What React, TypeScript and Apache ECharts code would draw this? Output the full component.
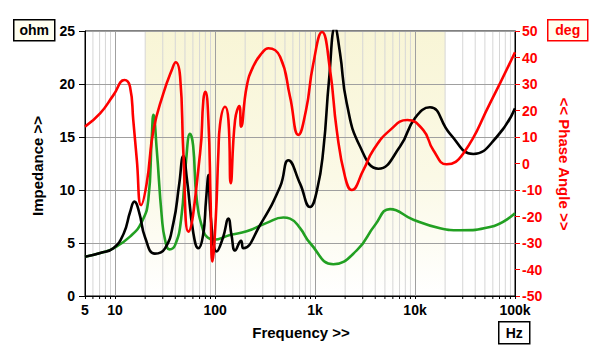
import React, { useEffect, useRef } from "react";
import * as echarts from "echarts";

// Frequencies (Hz) and values
const blackFreq = [5, 7.1, 9.6, 12.2, 14.1, 15.6, 17.4, 20, 25, 31.6, 38.3, 43.7, 48.1, 52.5, 60.7, 68.1, 75.9, 81.3, 86, 90.2, 104, 120, 136, 146, 158.5, 182, 192, 282, 447, 541, 708, 891, 1047, 1211, 1380, 1585, 1778, 2073, 2818, 4300, 7079, 10000, 14100, 22400, 38300, 65600, 100000];
const blackOhm = [3.7, 4.06, 4.5, 5.9, 7.9, 8.9, 7.9, 5.5, 4.0, 4.5, 6.9, 10.5, 13.2, 10.9, 5.9, 4.5, 5.75, 9.1, 11.4, 7.6, 4.2, 5.5, 7.3, 5.75, 4.3, 5.2, 4.5, 6.7, 10.3, 12.8, 10.6, 8.4, 10.0, 13.8, 20.4, 25.3, 22.9, 18.2, 14.1, 12.0, 14.1, 16.8, 17.8, 15.3, 13.4, 15.0, 17.7];

const greenFreq = [5, 7.1, 9.6, 14.1, 18.5, 21.5, 23.2, 24.2, 26.1, 29.3, 31.6, 35, 39.8, 45.7, 51.3, 56.2, 60.3, 65.6, 76.4, 85.1, 96.2, 141, 207, 329, 482, 562, 708, 891, 1524, 2612, 3981, 5623, 9623, 17800, 28200, 56200, 100000];
const greenOhm = [3.7, 4.06, 4.5, 5.6, 7.0, 9.1, 14.7, 17.1, 13.8, 7.5, 5.3, 4.4, 4.8, 7.2, 12.8, 15.3, 14.2, 9.1, 6.1, 5.5, 5.3, 5.75, 6.1, 6.9, 7.4, 7.3, 6.4, 5.0, 3.0, 4.3, 6.7, 8.2, 7.2, 6.4, 6.2, 6.5, 7.8];

const redFreq = [5, 7.08, 9.62, 12.4, 14.1, 15.2, 16.5, 18.2, 20.7, 24.2, 30.4, 36.9, 40.4, 44.7, 48.2, 54.1, 70.8, 76.4, 80, 85.7, 90.2, 94, 101.6, 108, 112, 126, 136, 143.5, 158.5, 175, 182, 207, 240, 293, 341, 447, 562, 681, 813, 955, 1175, 1413, 1648, 1995, 2328, 3041, 3828, 5623, 8375, 12100, 15200, 20700, 30400, 56200, 100000];
const redDeg = [13.9, 18.9, 25.8, 31.5, 29.0, 16.4, 1.3, -15.7, -7.5, 12.6, 26.5, 35.3, 38.2, 32.8, 3.8, -25.7, 3.8, 24.0, 27.1, 16.4, -13.8, -37.0, -20.7, 4.5, 14.6, 21.4, 16.4, -7.4, 16.4, 21.7, 13.9, 29.0, 36.5, 41.6, 43.5, 40.3, 25.2, 10.8, 20.2, 37.2, 49.6, 35.3, 12.6, -5.0, -10.0, -2.5, 5.1, 12.6, 16.4, 12.6, 5.1, -0.3, 3.8, 22.7, 42.0];

const minorFreq = [6, 7, 8, 9, 20, 30, 40, 50, 60, 70, 80, 90, 200, 300, 400, 500, 600, 700, 800, 900, 2000, 3000, 4000, 5000, 6000, 7000, 8000, 9000, 20000, 30000, 40000, 50000, 60000, 70000, 80000, 90000];
const bandRange = [[20, 20000]];

const pair = (xs: number[], ys: number[]) => xs.map((x, i) => [x, ys[i]]);

const FONT = "Liberation Sans, Arial, sans-serif";

function fmtFreq(v: number) {
  const r = Math.round(v);
  if (r >= 1000) return Math.round(r / 1000) + "k";
  return String(r);
}

export default function App() {
  const ref = useRef<HTMLDivElement>(null);
  useEffect(() => {
    if (!ref.current) return;
    const chart = echarts.init(ref.current, undefined, { renderer: "svg" });
    chart.setOption({
      animation: false,
      backgroundColor: "#ffffff",
      grid: {
        left: 85,
        right: 85,
        top: 31,
        bottom: 60,
        show: true,
        borderColor: "#000",
        borderWidth: 1,
        backgroundColor: "transparent",
        containLabel: false,
      },
      xAxis: {
        type: "log",
        logBase: 10,
        min: 5,
        max: 100000,
        axisLine: { show: true, lineStyle: { color: "#000", width: 1 } },
        axisTick: { show: true, length: 3, lineStyle: { color: "#000" } },
        axisLabel: {
          show: true,
          formatter: (v: number) => fmtFreq(v),
          color: "#000",
          fontFamily: FONT,
          fontWeight: "bold",
          fontSize: 14,
          margin: 7,
          showMinLabel: true,
          showMaxLabel: true,
        },
        splitLine: { show: true, lineStyle: { color: "#a0a0a0", width: 1 } },
      },
      yAxis: [
        {
          type: "value",
          min: 0,
          max: 25,
          interval: 5,
          axisLine: { show: true, lineStyle: { color: "#000" } },
          axisTick: { show: true, length: 6, lineStyle: { color: "#000" } },
          axisLabel: { color: "#000", fontFamily: FONT, fontWeight: "bold", fontSize: 14, margin: 10 },
          splitLine: { show: true, lineStyle: { color: "#a0a0a0", width: 1 } },
        },
        {
          type: "value",
          min: -50,
          max: 50,
          interval: 10,
          position: "right",
          axisLine: { show: true, lineStyle: { color: "#000" } },
          axisTick: { show: true, length: 5, lineStyle: { color: "#ff0000" } },
          axisLabel: { color: "#ff0000", fontFamily: FONT, fontWeight: "bold", fontSize: 14, margin: 7 },
          splitLine: { show: false },
        },
      ],
      series: [
        {
          type: "custom",
          z: -2,
          clip: true,
          data: bandRange,
          renderItem: (params: any, api: any) => {
            const a = api.coord([api.value(0), 25]);
            const b = api.coord([api.value(1), 0]);
            return {
              type: "rect",
              shape: { x: a[0], y: a[1], width: b[0] - a[0], height: b[1] - a[1] },
              style: {
                fill: new echarts.graphic.LinearGradient(0, 0, 0, 1, [
                  { offset: 0, color: "#f8f5d6" },
                  { offset: 0.55, color: "#fbf9e6" },
                  { offset: 1, color: "#ffffff" },
                ]),
              },
            };
          },
        },
        {
          type: "custom",
          z: -1,
          clip: false,
          data: minorFreq.map((f) => [f]),
          renderItem: (params: any, api: any) => {
            const f = api.value(0);
            const p = api.coord([f, 0]);
            const t = api.coord([f, 25]);
            return {
              type: "group",
              children: [
                { type: "line", shape: { x1: p[0], y1: t[1], x2: p[0], y2: p[1] }, style: { stroke: "#d6d6d6", lineWidth: 1 } },
                { type: "line", shape: { x1: p[0], y1: p[1], x2: p[0], y2: p[1] + 3 }, style: { stroke: "#000", lineWidth: 1 } },
              ],
            };
          },
        },
        {
          name: "green",
          type: "line",
          yAxisIndex: 0,
          data: pair(greenFreq, greenOhm),
          smooth: 0.5,
          symbol: "none",
          lineStyle: { color: "#22a022", width: 2.6 },
          z: 3,
        },
        {
          name: "black",
          type: "line",
          yAxisIndex: 0,
          data: pair(blackFreq, blackOhm),
          smooth: 0.5,
          symbol: "none",
          lineStyle: { color: "#000000", width: 2.6 },
          z: 4,
        },
        {
          name: "red",
          type: "line",
          yAxisIndex: 1,
          data: pair(redFreq, redDeg),
          smooth: 0.5,
          symbol: "none",
          lineStyle: { color: "#ff0000", width: 2.6 },
          z: 5,
        },
      ],
      graphic: [
        {
          type: "group",
          left: 13,
          top: 19,
          children: [
            { type: "rect", shape: { x: 0, y: 0, width: 41, height: 21 }, style: { fill: "#fffff0", stroke: "#000", lineWidth: 1.5 } },
            { type: "text", x: 20.5, y: 10.5, style: { text: "ohm", fill: "#000", font: `bold 14px ${FONT}`, align: "center", verticalAlign: "middle" } },
          ],
        },
        {
          type: "group",
          left: 547,
          top: 19,
          children: [
            { type: "rect", shape: { x: 0, y: 0, width: 40, height: 21 }, style: { fill: "#fffff0", stroke: "#ff0000", lineWidth: 1.5 } },
            { type: "text", x: 20, y: 10.5, style: { text: "deg", fill: "#ff0000", font: `bold 14px ${FONT}`, align: "center", verticalAlign: "middle" } },
          ],
        },
        {
          type: "group",
          left: 498,
          top: 321,
          children: [
            { type: "rect", shape: { x: 0, y: 0, width: 31, height: 22 }, style: { fill: "#ffffff", stroke: "#000", lineWidth: 1.5 } },
            { type: "text", x: 15.5, y: 11, style: { text: "Hz", fill: "#000", font: `bold 14px ${FONT}`, align: "center", verticalAlign: "middle" } },
          ],
        },
        {
          type: "text",
          x: 301,
          y: 332,
          style: { text: "Frequency >>", fill: "#000", font: `bold 15px ${FONT}`, align: "center", verticalAlign: "middle" },
        },
        {
          type: "text",
          x: 37.5,
          y: 166,
          rotation: Math.PI / 2,
          style: { text: "Impedance >>", fill: "#000", font: `bold 15px ${FONT}`, align: "center", verticalAlign: "middle" },
        },
        {
          type: "text",
          x: 564,
          y: 164,
          rotation: -Math.PI / 2,
          style: { text: "<< Phase Angle >>", fill: "#ff0000", font: `bold 15px ${FONT}`, align: "center", verticalAlign: "middle" },
        },
      ],
    });
    return () => chart.dispose();
  }, []);
  return <div ref={ref} style={{ width: 600, height: 356, position: "absolute", left: 0, top: 0 }} />;
}
